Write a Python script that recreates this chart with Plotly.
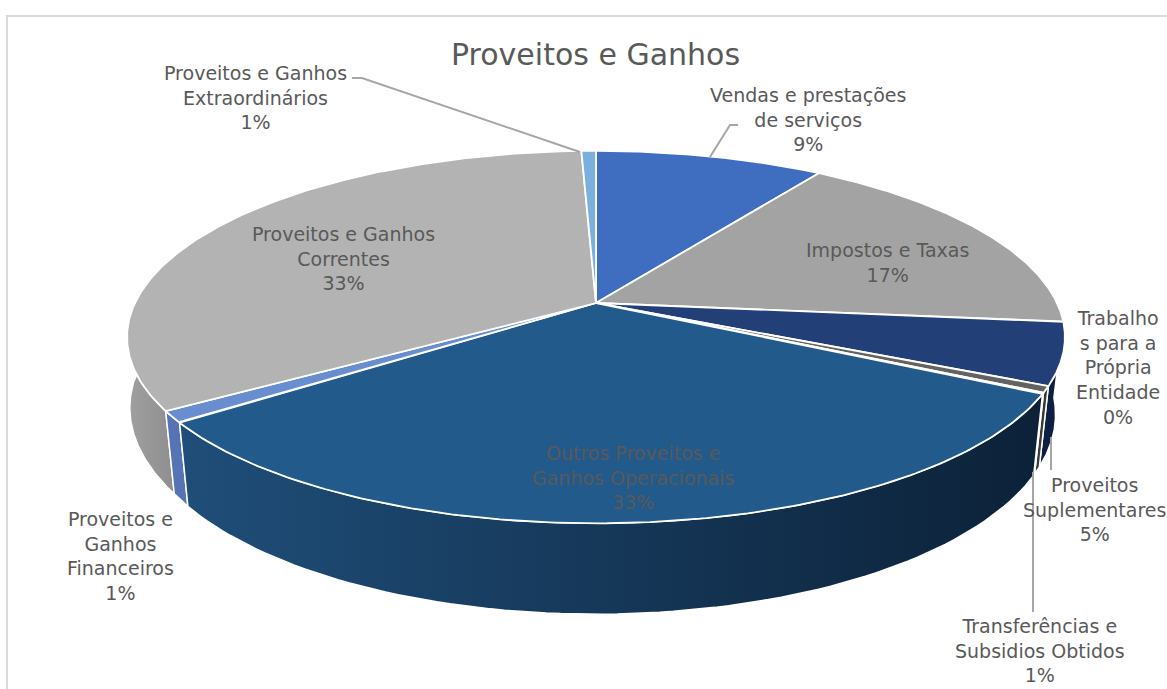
import numpy as np
import plotly.graph_objects as go

# ---- data ----
categories = ["Vendas e prestações<br>de serviços", "Impostos e Taxas", "Proveitos<br>Suplementares",
              "Trabalho<br>s para a<br>Própria<br>Entidade", "Transferências e<br>Subsidios Obtidos",
              "Outros Proveitos e<br>Ganhos Operacionais", "Proveitos e<br>Ganhos<br>Financeiros",
              "Proveitos e Ganhos<br>Correntes", "Proveitos e Ganhos<br>Extraordinários"]
values = [9.4, 17.2, 5.4, 0.55, 0.1, 32.25, 1.0, 33.5, 0.6]
pct_labels = ["9%", "17%", "5%", "0%", "1%", "33%", "1%", "33%", "1%"]

# ---- styles / layout ----
top_colors = ["#3f6ec0", "#a3a3a3", "#223f78", "#636363", "#1d4a73", "#235a8c", "#698ed0", "#b3b3b3", "#7cafdd"]
side_colors = [("#335a9e", "#335a9e"), ("#838383", "#838383"), ("#0b1f44", "#101f3e"), ("#3a3a3a", "#3a3a3a"),
               ("#14344f", "#14344f"), ("#1f4e79", "#0c2138"), ("#5573b5", "#5573b5"), ("#a0a0a0", "#8e8e8e"),
               ("#6a97bf", "#6a97bf")]
label_pos = [(808, 119), (887, 262), (1094, 509), (1118, 367), (1040, 650), (633, 477), (120, 556), (343, 258), (255, 97)]
TEXT = "#595959"
LINE = "#a6a6a6"
FONT = "DejaVu Sans"
FS = 19

CX, CY = 596, 303          # apex of the top face
RX, RY, K = 461, 180, 0.183  # perspective circle
BOT_CY, BOT_SX, BOT_SY = 378, 0.98, 1.072  # lower rim
DEPTH_FROM, DEPTH_TO = 93, 272


def top_xy(phi):
    p = np.radians(phi)
    w = 1 + K * np.cos(p)
    return CX + RX * np.sin(p) / w, CY - RY * np.cos(p) / w


def bot_xy(phi):
    x, y = top_xy(phi)
    sx = BOT_SX + (1.0 - BOT_SX) * np.clip((phi - 237) / 33, 0, 1)
    return CX + sx * (x - CX), BOT_CY + BOT_SY * (y - CY)


edges = np.concatenate([[0], np.cumsum(values)]) / np.sum(values) * 360
fig = go.Figure()

# side wall, back to front
order = [7, 2, 3, 4, 6, 5]
for i in order:
    a, b = max(edges[i], DEPTH_FROM), min(edges[i + 1], DEPTH_TO)
    if b <= a:
        continue
    ph = np.linspace(a, b, 80)
    tx, ty = top_xy(ph)
    bx, by = bot_xy(ph)
    x = np.concatenate([tx, bx[::-1], tx[:1]])
    y = np.concatenate([ty, by[::-1], ty[:1]])
    c1, c2 = side_colors[i]
    fig.add_trace(go.Scatter(
        x=x, y=y, mode="lines", fill="toself",
        fillgradient=dict(type="horizontal", colorscale=[[0, c1], [1, c2]]) if c1 != c2 else None,
        fillcolor=None if c1 != c2 else c1,
        line=dict(color="white", width=1.5), hoverinfo="skip", showlegend=False))

# top face
for i in range(len(values)):
    ph = np.linspace(edges[i], edges[i + 1], 160)
    tx, ty = top_xy(ph)
    x = np.concatenate([[CX], tx, [CX]])
    y = np.concatenate([[CY], ty, [CY]])
    fig.add_trace(go.Scatter(x=x, y=y, mode="lines", fill="toself", fillcolor=top_colors[i],
                             line=dict(color="white", width=1.8), hoverinfo="skip", showlegend=False))

# leader lines
leaders = [([710, 730, 738], [157, 125, 125]), ([352, 362, 580], [78, 78, 152]),
           ([1051, 1051], [437, 470]), ([1033, 1033], [472, 612])]
for lx, ly in leaders:
    fig.add_trace(go.Scatter(x=lx, y=ly, mode="lines", line=dict(color=LINE, width=2),
                             hoverinfo="skip", showlegend=False))

for cat, pct, (px, py) in zip(categories, pct_labels, label_pos):
    fig.add_annotation(x=px, y=py, text=f"{cat}<br>{pct}", showarrow=False, align="center",
                       xanchor="center", yanchor="middle",
                       font=dict(family=FONT, size=FS, color=TEXT))

fig.add_annotation(x=595, y=54, text="Proveitos e Ganhos", showarrow=False, xanchor="center", yanchor="middle",
                   font=dict(family=FONT, size=30, color=TEXT))

# chart frame
fig.add_shape(type="path", path="M 7 689 L 7 16 L 1167 16", line=dict(color="#d9d9d9", width=2))

fig.update_xaxes(range=[0, 1167], visible=False, fixedrange=True)
fig.update_yaxes(range=[689, 0], visible=False, fixedrange=True)
fig.update_layout(width=1167, height=689, margin=dict(l=0, r=0, t=0, b=0),
                  paper_bgcolor="white", plot_bgcolor="white", showlegend=False)
fig.write_html("out.html", config={"displayModeBar": False},
               post_script="document.body.style.margin='0';document.documentElement.style.overflow='hidden';")
